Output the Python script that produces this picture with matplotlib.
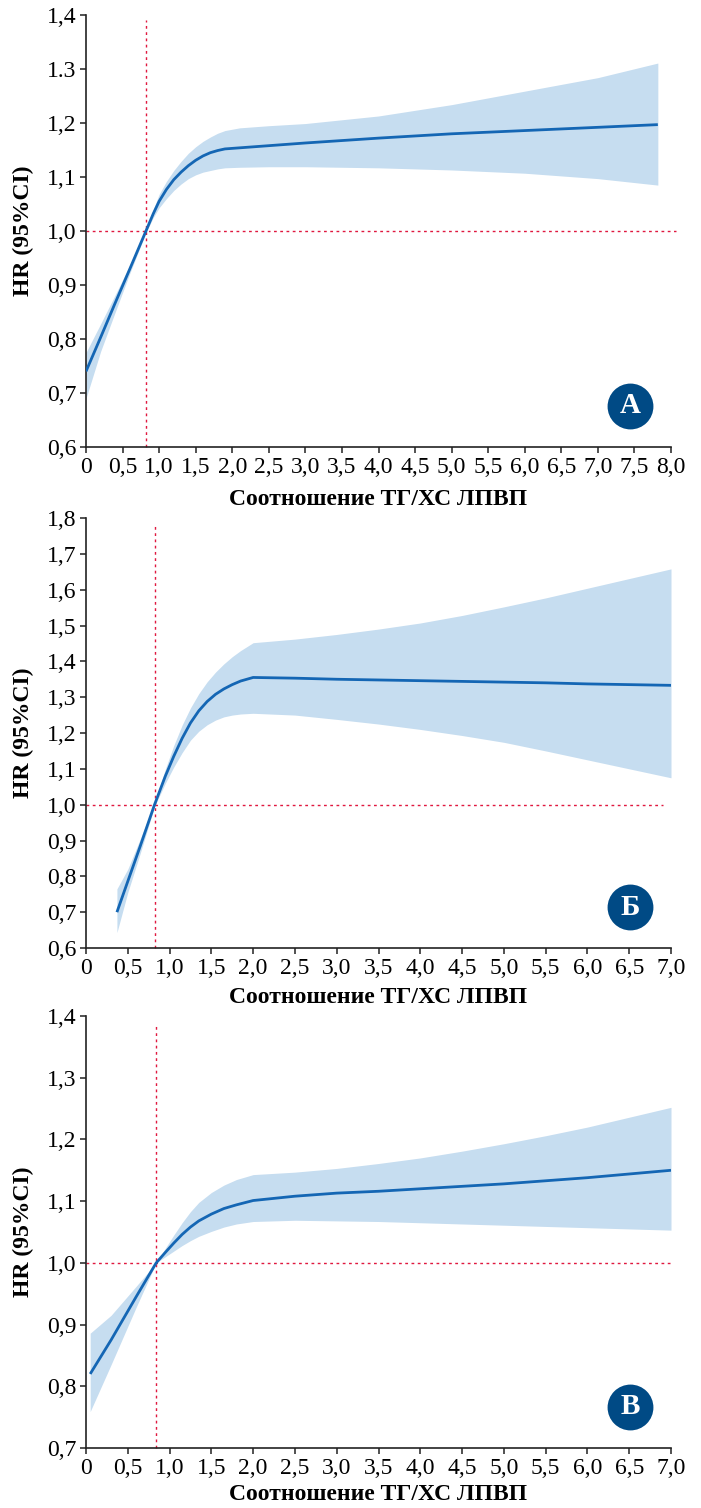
import numpy as np
import matplotlib
matplotlib.use("Agg")
import matplotlib.pyplot as plt

plt.rcParams['font.family'] = ['Liberation Serif', 'DejaVu Serif']

# --- панель А ---
a_x = [0, 0.2, 0.4, 0.6, 0.82, 0.92, 1.0, 1.1, 1.2, 1.3, 1.4, 1.5, 1.6, 1.7, 1.8, 1.9, 2.1, 2.5, 3.0, 4.0, 5.0, 6.0, 7.0, 7.82]
a_hr = [0.74, 0.803, 0.867, 0.93, 1.0, 1.032, 1.055, 1.077, 1.095, 1.109, 1.121, 1.131, 1.139, 1.145, 1.149, 1.152, 1.154, 1.158, 1.163, 1.172, 1.18, 1.186, 1.192, 1.197]
a_hi = [0.775, 0.828, 0.882, 0.937, 1.003, 1.04, 1.068, 1.092, 1.112, 1.129, 1.144, 1.156, 1.166, 1.174, 1.181, 1.186, 1.191, 1.195, 1.199, 1.213, 1.234, 1.259, 1.284, 1.311]
a_lo = [0.69, 0.777, 0.85, 0.922, 0.997, 1.025, 1.043, 1.06, 1.075, 1.087, 1.097, 1.104, 1.109, 1.112, 1.115, 1.117, 1.118, 1.119, 1.119, 1.117, 1.113, 1.107, 1.097, 1.085]

# --- панель Б ---
b_x = [0.37, 0.5, 0.65, 0.82, 0.95, 1.05, 1.15, 1.25, 1.35, 1.45, 1.55, 1.65, 1.75, 1.85, 2.0, 2.5, 3.0, 3.5, 4.0, 4.5, 5.0, 5.5, 6.0, 6.5, 7.0]
b_hr = [0.70, 0.786, 0.885, 1.0, 1.08, 1.135, 1.185, 1.228, 1.262, 1.288, 1.308, 1.323, 1.335, 1.345, 1.355, 1.353, 1.35, 1.348, 1.346, 1.344, 1.342, 1.34, 1.337, 1.335, 1.333]
b_hi = [0.765, 0.82, 0.905, 1.005, 1.1, 1.165, 1.222, 1.27, 1.31, 1.343, 1.37, 1.393, 1.413, 1.43, 1.452, 1.462, 1.475, 1.49, 1.507, 1.528, 1.552, 1.577, 1.604, 1.631, 1.658]
b_lo = [0.643, 0.755, 0.865, 0.995, 1.06, 1.105, 1.145, 1.18, 1.205, 1.223, 1.236, 1.245, 1.25, 1.253, 1.255, 1.25, 1.238, 1.225, 1.21, 1.193, 1.174, 1.15, 1.125, 1.1, 1.075]

# --- панель В ---
c_x = [0.05, 0.3, 0.6, 0.84, 0.95, 1.05, 1.15, 1.25, 1.35, 1.5, 1.65, 1.8, 2.0, 2.5, 3.0, 3.5, 4.0, 4.5, 5.0, 5.5, 6.0, 6.5, 7.0]
c_hr = [0.82, 0.875, 0.945, 1.0, 1.017, 1.032, 1.046, 1.058, 1.068, 1.079, 1.088, 1.094, 1.101, 1.108, 1.113, 1.116, 1.12, 1.124, 1.128, 1.133, 1.138, 1.144, 1.15]
c_hi = [0.886, 0.915, 0.962, 1.0, 1.024, 1.045, 1.065, 1.083, 1.098, 1.114, 1.126, 1.135, 1.143, 1.147, 1.153, 1.161, 1.17, 1.181, 1.193, 1.206, 1.22, 1.236, 1.252]
c_lo = [0.759, 0.835, 0.928, 1.0, 1.01, 1.019, 1.028, 1.036, 1.043, 1.051, 1.058, 1.063, 1.067, 1.069, 1.068, 1.067, 1.065, 1.063, 1.061, 1.059, 1.057, 1.055, 1.053]

cutoffs = [0.82, 0.83, 0.84]
letters = ['А', 'Б', 'В']
xmax = [8.0, 7.0, 7.0]
ylims = [(0.6, 1.4), (0.6, 1.8), (0.7, 1.4)]
a_yticklabels = ['0,6', '0,7', '0,8', '0,9', '1,0', '1,1', '1,2', '1.3', '1,4']

xlabel = 'Соотношение ТГ/ХС ЛПВП'
ylabel = 'HR (95%CI)'

W, H = 701, 1508
fig = plt.figure(figsize=(W / 100, H / 100), dpi=100)

# позиции осей в пикселях: (top, bottom)
boxes = [(15, 447), (518, 948), (1016, 1448)]
band = '#c6ddf0'
line = '#1466b4'
red = '#e0183f'
badge = '#004a85'

data = [(a_x, a_hr, a_hi, a_lo), (b_x, b_hr, b_hi, b_lo), (c_x, c_hr, c_hi, c_lo)]
vtop = [1.39, 1.78, 1.388]
hend = [8.07, 6.9, 6.99]
lpad = [8, 6, 4]

for i, (x, hr, hi, lo) in enumerate(data):
    top, bot = boxes[i]
    ax = fig.add_axes([86 / W, 1 - bot / H, 585 / W, (bot - top) / H])
    ax.fill_between(x, lo, hi, color=band, linewidth=0, zorder=1)
    ax.plot(x, hr, color=line, lw=2.0, zorder=3, solid_capstyle='butt',
            solid_joinstyle='round')

    y0, y1 = ylims[i]
    ax.plot([cutoffs[i], cutoffs[i]], [y0, vtop[i]], color=red, lw=1.0,
            linestyle=(0, (2, 2.5)), zorder=2, clip_on=False)
    ax.plot([0, hend[i]], [1.0, 1.0], color=red, lw=1.0,
            linestyle=(0, (2, 2.5)), zorder=2, clip_on=False)

    ax.set_xlim(0, xmax[i])
    ax.set_ylim(y0, y1)
    xt = np.arange(0, xmax[i] + 0.01, 0.5)
    ax.set_xticks(xt)
    ax.set_xticklabels(['0'] + [f'{v:.1f}'.replace('.', ',') for v in xt[1:]])
    yt = np.arange(y0, y1 + 0.001, 0.1)
    ax.set_yticks(yt)
    if i == 0:
        ax.set_yticklabels(a_yticklabels)
    else:
        ax.set_yticklabels([f'{v:.1f}'.replace('.', ',') for v in yt])

    for s in ['top', 'right']:
        ax.spines[s].set_visible(False)
    for s in ['left', 'bottom']:
        ax.spines[s].set_linewidth(1.2)
        ax.spines[s].set_color('#222222')
    ax.tick_params(direction='out', length=4, width=1.1, color='#222222',
                   labelsize=17, pad=3)

    ax.set_xlabel(xlabel, fontsize=17, fontweight='bold', labelpad=lpad[i])
    ax.set_ylabel(ylabel, fontsize=17, fontweight='bold')
    ax.yaxis.set_label_coords(-52 / 585, 0.5)

    ax.plot([0.93], [0.095], 'o', transform=ax.transAxes, markersize=33,
            color=badge, markeredgewidth=0, clip_on=False, zorder=5)
    ax.text(0.93, 0.095, letters[i], transform=ax.transAxes, ha='center',
            va='center', color='white', fontsize=21, fontweight='bold', zorder=6)

fig.savefig('out.png', dpi=100)
